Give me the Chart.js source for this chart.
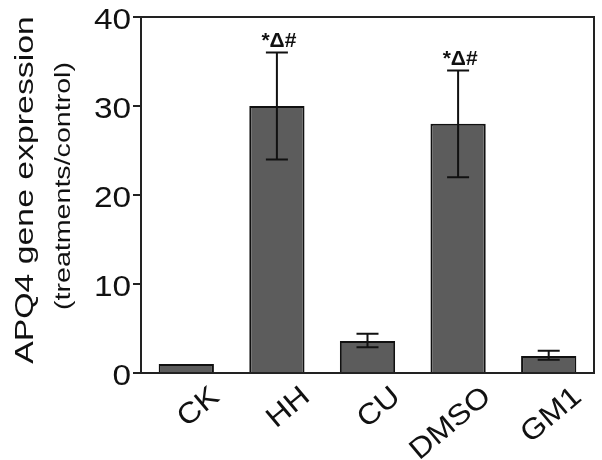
<!DOCTYPE html>
<html>
<head>
<meta charset="utf-8">
<script src="https://cdn.jsdelivr.net/npm/chart.js@4.4.0/dist/chart.umd.min.js"></script>
<style>
  html, body { margin: 0; padding: 0; background: #fff; }
  #wrap { width: 602px; height: 460px; }
</style>
</head>
<body>
<div id="wrap"><canvas id="apqChart"></canvas></div>
<script>
const groups = ["CK", "HH", "CU", "DMSO", "GM1"];
const means = [1.0, 30, 3.6, 28, 1.9];
const errLow = [1.0, 24, 2.9, 22, 1.5];
const errHigh = [1.0, 36, 4.4, 34, 2.5];
const marks = ["", "*\u0394#", "", "*\u0394#", ""];
const yTicks = [0, 10, 20, 30, 40];
const yTitle = ["APQ4 gene expression", "(treatments/control)"];

const FONT = "'Liberation Sans', Arial, sans-serif";

// the picture's lettering is wider than Arial, so it is stretched along the text
function wideText(ctx, txt, x, y, size, stretch, angle, align, base) {
  ctx.save();
  ctx.translate(x, y);
  ctx.rotate(angle);
  ctx.scale(stretch, 1);
  ctx.font = size + "px " + FONT;
  ctx.textAlign = align;
  ctx.textBaseline = base;
  ctx.fillText(txt, 0, 0);
  ctx.restore();
}

// error bars, caps, significance marks, frame and axis text
const extras = {
  id: "extras",
  afterDatasetsDraw(chart) {
    const ctx = chart.ctx;
    const x = chart.scales.x;
    const y = chart.scales.y;
    ctx.save();
    ctx.strokeStyle = "#111";
    ctx.fillStyle = "#111";
    ctx.lineWidth = 2;
    groups.forEach((g, i) => {
      if (errHigh[i] === errLow[i]) return;
      const cx = x.getPixelForValue(i);
      const top = y.getPixelForValue(errHigh[i]);
      const bot = y.getPixelForValue(errLow[i]);
      ctx.beginPath();
      ctx.moveTo(cx, top);
      ctx.lineTo(cx, bot);
      ctx.moveTo(cx - 11, top);
      ctx.lineTo(cx + 11, top);
      ctx.moveTo(cx - 11, bot);
      ctx.lineTo(cx + 11, bot);
      ctx.stroke();
      if (marks[i]) {
        ctx.font = "bold 21px " + FONT;
        ctx.textAlign = "center";
        ctx.textBaseline = "bottom";
        ctx.fillText(marks[i], cx + 2, top - 1);
      }
    });

    const a = chart.chartArea;
    ctx.strokeStyle = "#222";
    ctx.strokeRect(a.left, a.top, a.right - a.left, a.bottom - a.top);

    // y tick labels
    yTicks.forEach((v) => {
      wideText(ctx, String(v), a.left - 10, y.getPixelForValue(v) + 4, 29, 1.15, 0, "right", "middle");
    });
    // x category labels, rotated
    groups.forEach((g, i) => {
      const cx = x.getPixelForValue(i);
      wideText(ctx, g, cx + 20, a.bottom + 9, 29, 1.1, -40 * Math.PI / 180, "right", "top");
    });
    // y axis title, two lines
    const mid = (a.top + a.bottom) / 2;
    wideText(ctx, yTitle[0], 26, mid - 5, 26, 1.3, -Math.PI / 2, "center", "middle");
    wideText(ctx, yTitle[1], 64, mid - 9, 22, 1.3, -Math.PI / 2, "center", "middle");
    ctx.restore();
  },
};

const ctx = document.getElementById("apqChart").getContext("2d");
const apqChart = new Chart(ctx, {
  type: "bar",
  data: {
    labels: groups,
    datasets: [
      {
        data: means,
        backgroundColor: "#5c5c5c",
        borderColor: "#111",
        borderWidth: 2,
        borderSkipped: "bottom",
        barPercentage: 0.61,
        categoryPercentage: 1.0,
      },
    ],
  },
  options: {
    responsive: true,
    maintainAspectRatio: false,
    animation: false,
    layout: {
      padding: { top: 17, right: 8, left: 0, bottom: 0 },
    },
    plugins: {
      legend: { display: false },
      tooltip: { enabled: false },
    },
    scales: {
      x: {
        grid: { display: false },
        border: { display: true, color: "#222", width: 2 },
        ticks: { display: false },
        afterFit(scale) {
          scale.height = 87;
        },
      },
      y: {
        min: 0,
        max: 40,
        afterBuildTicks(scale) {
          scale.ticks = yTicks.map((v) => ({ value: v }));
        },
        grid: {
          drawOnChartArea: false,
          drawTicks: true,
          tickLength: 8,
          color: "#222",
          lineWidth: 2,
        },
        border: { display: true, color: "#222", width: 2 },
        ticks: { display: false },
        afterFit(scale) {
          scale.width = 141;
        },
      },
    },
  },
  plugins: [extras],
});
</script>
</body>
</html>
